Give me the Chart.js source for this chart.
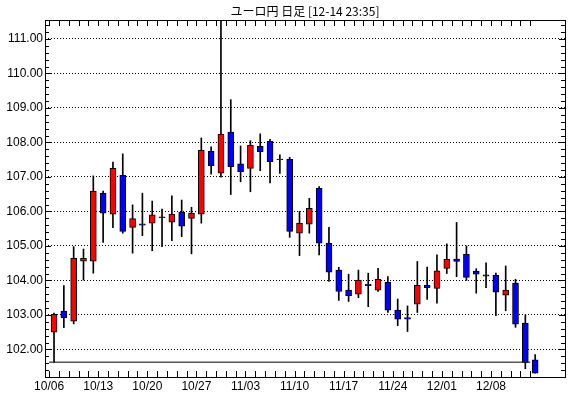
<!DOCTYPE html>
<html>
<head>
<meta charset="utf-8">
<script src="https://cdn.jsdelivr.net/npm/chart.js@4"></script>
<style>
  html, body { margin: 0; padding: 0; background: #fff; }
  #wrap { width: 570px; height: 398px; }
</style>
</head>
<body>
<div id="wrap"><canvas id="candleChart" width="570" height="398"></canvas></div>
<script>
// ユーロ円 日足 (10/06 - 12/14)
const titleText = 'ユーロ円 日足 [12-14 23:35]';

const dates = ['10/06','10/07','10/10','10/11','10/12','10/13','10/14','10/17','10/18','10/19',
               '10/20','10/21','10/24','10/25','10/26','10/27','10/28','10/31','11/01','11/02',
               '11/03','11/04','11/07','11/08','11/09','11/10','11/11','11/14','11/15','11/16',
               '11/17','11/18','11/21','11/22','11/23','11/24','11/25','11/28','11/29','11/30',
               '12/01','12/02','12/05','12/06','12/07','12/08','12/09','12/12','12/13','12/14'];

const opens  = [102.50,103.11,102.82,104.56,104.56,106.53,105.92,107.05,105.54,105.64,
                105.66,105.84,105.69,105.98,105.80,105.92,107.74,107.11,108.30,107.38,
                107.25,107.89,108.03,107.52,107.51,105.37,105.63,106.67,105.08,104.30,
                103.72,103.60,103.89,103.72,103.95,103.14,102.92,103.31,103.86,103.77,
                104.35,104.62,104.76,104.27,104.16,104.15,103.57,103.92,102.76,101.70];
const highs  = [103.05,103.85,104.98,104.91,107.03,106.59,107.43,107.67,106.19,106.53,
                106.30,106.07,106.45,106.33,106.12,108.13,107.87,111.55,109.24,107.90,
                108.05,108.25,108.09,107.64,107.57,106.00,106.38,106.72,105.54,104.38,
                104.18,104.30,104.21,104.35,104.11,103.46,103.26,104.55,104.39,104.74,
                105.06,105.68,105.00,104.34,104.51,104.21,104.42,104.03,103.00,101.85];
const lows   = [101.63,102.63,102.74,104.01,104.21,105.10,105.53,105.37,104.79,105.30,
                104.86,104.98,105.15,105.27,104.77,105.66,107.08,106.99,106.49,106.86,
                106.57,107.18,106.83,107.10,105.25,104.72,105.37,104.74,103.97,103.42,
                103.39,103.50,103.24,103.68,103.07,102.69,102.52,103.07,103.45,103.34,
                104.20,104.11,104.00,103.63,103.79,102.98,103.12,102.64,101.44,101.31];
const closes = [103.02,102.91,104.64,104.64,106.59,105.95,107.25,105.42,105.79,105.60,
                105.90,105.82,105.92,105.57,105.95,107.77,107.32,108.24,107.30,107.15,
                107.92,107.73,107.44,107.50,105.42,105.66,106.09,105.08,104.24,103.68,
                103.56,104.01,103.85,104.03,103.14,102.88,102.88,103.86,103.79,104.28,
                104.61,104.55,104.09,104.18,104.12,103.66,103.72,102.73,101.62,101.31];

// 期間安値ライン
const lowLine = 101.63;

// y axis tick labels
const yTicks = [102, 103, 104, 105, 106, 107, 108, 109, 110, 111];
const yMin = 101.2;
const yMax = 111.55;

// ==================================================================
//                        build datasets
// ==================================================================
const wickData = dates.map((d, i) => ({ x: i + 0.5, y: [lows[i], highs[i]] }));
const bodyData = dates.map((d, i) => ({ x: i + 0.5, y: [opens[i], closes[i]] }));
const bodyColors = dates.map((d, i) => closes[i] >= opens[i] ? '#ff0000' : '#0000ff');

// minor ticks every 0.2 on both y sides
const minorTicks = [];
for (let v = 101.4; v < 111.5; v += 0.2) minorTicks.push(Math.round(v * 10) / 10);

// Frame, inward ticks and title
const framePlugin = {
    id: 'frame',
    afterDatasetsDraw: (chart) => {
        const ctx = chart.ctx;
        const a = chart.chartArea;
        const x = chart.scales.x;
        const y = chart.scales.y;

        ctx.save();
        ctx.strokeStyle = '#000';
        ctx.lineWidth = 1;
        ctx.beginPath();
        // day ticks, top and bottom
        dates.forEach((d, i) => {
            const px = Math.round(x.getPixelForValue(i)) + 0.5;
            ctx.moveTo(px, a.top);
            ctx.lineTo(px, a.top + 6);
            ctx.moveTo(px, a.bottom);
            ctx.lineTo(px, a.bottom - 6);
        });
        // price ticks, left and right
        minorTicks.forEach(v => {
            const py = Math.round(y.getPixelForValue(v)) + 0.5;
            const len = Number.isInteger(v) ? 6 : 4;
            ctx.moveTo(a.left, py);
            ctx.lineTo(a.left + len, py);
            ctx.moveTo(a.right, py);
            ctx.lineTo(a.right - len, py);
        });
        ctx.stroke();
        ctx.strokeRect(a.left + 0.5, a.top + 0.5, a.right - a.left, a.bottom - a.top);

        // title
        ctx.fillStyle = '#000';
        ctx.font = '12px "Noto Sans CJK JP", sans-serif';
        ctx.textAlign = 'center';
        ctx.textBaseline = 'middle';
        ctx.fillText(titleText, (a.left + a.right) / 2, 11);
        ctx.restore();
    }
};

const ctx = document.getElementById('candleChart').getContext('2d');
const candleChart = new Chart(ctx, {
    type: 'bar',
    data: {
        datasets: [{
            label: 'body',
            data: bodyData,
            backgroundColor: bodyColors,
            borderColor: '#000',
            borderWidth: 1,
            borderSkipped: false,
            barThickness: 6,
            grouped: false,
            order: 0
        }, {
            label: 'wick',
            data: wickData,
            backgroundColor: '#000',
            borderWidth: 0,
            barThickness: 1,
            grouped: false,
            order: 1
        }, {
            type: 'line',
            label: 'low',
            data: [{ x: 0, y: lowLine }, { x: dates.length - 1, y: lowLine }],
            borderColor: '#000',
            borderWidth: 1,
            pointRadius: 0,
            fill: false,
            order: 2
        }]
    },
    options: {
        responsive: false,
        animation: false,
        layout: { padding: { top: 20, right: 5, left: 0, bottom: 0 } },
        plugins: {
            legend: { display: false },
            title: { display: false },
            tooltip: { enabled: false }
        },
        scales: {
            x: {
                type: 'linear',
                offset: false,
                min: -0.42,
                max: 52.54,
                grid: { display: false, drawTicks: false },
                border: { display: false },
                afterBuildTicks: (axis) => {
                    axis.ticks = dates.map((d, i) => ({ value: i }));
                },
                afterFit: (axis) => { axis.height = 21; },
                ticks: {
                    autoSkip: false,
                    maxRotation: 0,
                    padding: 2,
                    color: '#000',
                    font: { family: '"Liberation Sans", sans-serif', size: 12 },
                    callback: (value, index) => index % 5 === 0 ? dates[index] : ''
                }
            },
            y: {
                min: yMin,
                max: yMax,
                grid: { color: '#000', lineWidth: 1, drawTicks: false },
                border: { display: false, dash: [1, 2] },
                afterBuildTicks: (axis) => {
                    axis.ticks = yTicks.map(v => ({ value: v }));
                },
                afterFit: (axis) => { axis.width = 45; },
                ticks: {
                    padding: 2,
                    color: '#000',
                    font: { family: '"Liberation Sans", sans-serif', size: 12 },
                    callback: (value) => Number(value).toFixed(2)
                }
            }
        }
    },
    plugins: [framePlugin]
});
</script>
</body>
</html>
